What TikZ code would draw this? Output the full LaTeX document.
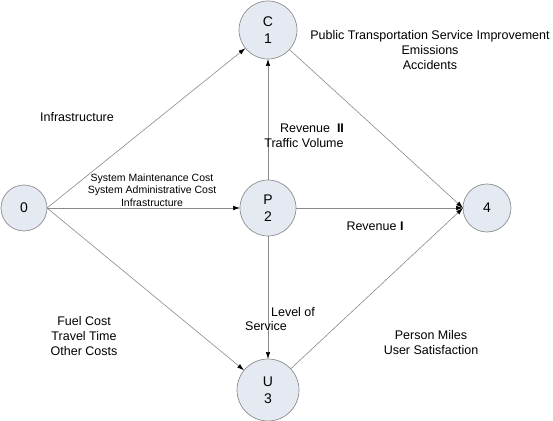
\documentclass[tikz,border=0pt]{standalone}
\usepackage{fontspec}
\setmainfont{Liberation Sans}
\usetikzlibrary{arrows.meta}
\definecolor{nodefill}{HTML}{E4E9F2}
\definecolor{nodeline}{HTML}{8E8E8E}
\definecolor{edgeline}{HTML}{8A8A8A}
\begin{document}
\begin{tikzpicture}[x=1pt,y=1pt,
  state/.style={circle,draw=nodeline,fill=nodefill,line width=0.7pt,inner sep=0pt,outer sep=0pt,align=center,font=\fontsize{14}{17}\selectfont},
  edge/.style={draw=edgeline,line width=0.6pt,-{Latex[length=7pt,width=4.5pt,color=black]}},
  biglab/.style={align=center,font=\fontsize{12.5}{15}\selectfont,inner sep=0pt},
  smalllab/.style={align=center,font=\fontsize{10.5}{12.5}\selectfont,inner sep=0pt}]
\useasboundingbox (0,0) rectangle (553,420);
\node[state,minimum size=46pt] (n0) at (24,212) {0};
\node[state,minimum size=56pt] (p2) at (268,212) {P\\2};
\node[state,minimum size=58pt] (c1) at (268,390) {C\\1};
\node[state,minimum size=62pt] (u3) at (268,30) {U\\3};
\node[state,minimum size=48pt] (n4) at (487,212) {4};

\draw[edge] (n0.east) -- (c1);
\draw[edge] (n0.east) -- (p2);
\draw[edge] (n0.east) -- (u3);
\draw[edge] (p2) -- (c1);
\draw[edge] (p2) -- (u3);
\draw[edge] (p2) -- (n4.west);
\draw[edge] (c1) -- (n4.west);
\draw[edge] (u3) -- (n4.west);

\node[biglab] (lpub) at (430,370) {Public Transportation Service Improvement\\Emissions\\Accidents};
\node[biglab] (linf) at (77,303) {Infrastructure};
\node[biglab] (lrev2) at (312,292) {Revenue~~\textbf{II}};
\node[biglab] (ltraf) at (304,277) {Traffic Volume};
\node[smalllab] (lsys) at (152,230) {System Maintenance Cost\\System Administrative Cost\\Infrastructure};
\node[biglab] (lrev1) at (375,194) {Revenue \textbf{I}};
\node[biglab] (llev) at (293,108) {Level of};
\node[biglab] (lserv) at (266,94) {Service};
\node[biglab] (lfuel) at (84,84) {Fuel Cost\\Travel Time\\Other Costs};
\node[biglab] (lpers) at (431,77) {Person Miles\\User Satisfaction};
\end{tikzpicture}
\end{document}
